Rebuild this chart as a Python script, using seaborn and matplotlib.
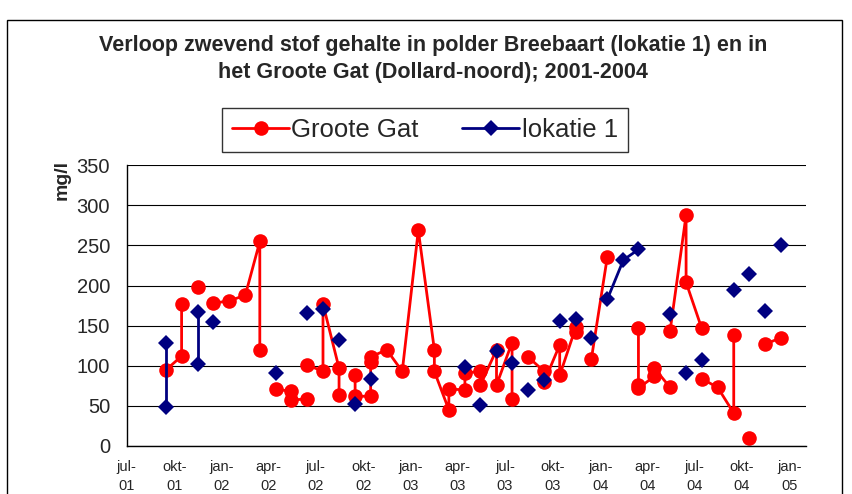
import numpy as np
import pandas as pd
import matplotlib
matplotlib.use("Agg")
import matplotlib.pyplot as plt
from matplotlib.lines import Line2D
from matplotlib.patches import Rectangle
import seaborn as sns

# Zwevend stof (mg/l), monthly samples; None = blank cell (line breaks there)
gg_months = ["2001-09", "2001-10", "2001-10", None,
             "2001-11", None,
             "2001-12", "2002-01", "2002-02", "2002-03", "2002-03", None,
             "2002-04", "2002-05", "2002-05", "2002-06", None,
             "2002-06", "2002-07", "2002-07", "2002-08", "2002-08", None,
             "2002-09", "2002-09", "2002-10", "2002-10", "2002-10", "2002-11",
             "2002-12", "2003-01", "2003-02", "2003-02", "2003-03", "2003-03",
             "2003-04", "2003-04", "2003-05", "2003-05", "2003-06", "2003-06",
             "2003-07", "2003-07", None,
             "2003-08", "2003-09", "2003-09", "2003-10", "2003-10", "2003-11",
             "2003-11", None,
             "2003-12", "2004-01", None,
             "2004-03", "2004-03", "2004-03", "2004-04", "2004-04", "2004-05", None,
             "2004-05", "2004-06", "2004-06", "2004-07", None,
             "2004-07", "2004-08", "2004-09", "2004-09", None,
             "2004-10", None,
             "2004-11", "2004-12"]
gg_values = [95, 112, 177, None,
             198, None,
             178, 181, 188, 255, 120, None,
             71, 68, 57, 59, None,
             101, 93, 177, 97, 64, None,
             88, 62, 62, 105, 111, 120,
             93, 269, 120, 93, 45, 71,
             70, 91, 93, 76, 120, 76,
             129, 58, None,
             111, 93, 80, 126, 88, 148,
             142, None,
             108, 236, None,
             147, 76, 72, 87, 97, 73, None,
             143, 288, 204, 147, None,
             84, 73, 41, 139, None,
             10, None,
             127, 135]

lok_months = ["2001-09", "2001-09", None, "2001-11", "2001-11", None,
              "2001-12", None, "2002-04", None, "2002-06", None, "2002-07", None,
              "2002-08", None, "2002-09", None, "2002-10", None, "2003-04", None,
              "2003-05", None, "2003-06", None, "2003-07", None, "2003-08", None,
              "2003-09", None, "2003-10", None, "2003-11", None, "2003-12", None,
              "2004-01", "2004-02", "2004-03", None, "2004-05", None,
              "2004-06", None, "2004-07", None, "2004-09", None, "2004-10", None,
              "2004-11", None, "2004-12"]
lok_values = [129, 48, None, 167, 102, None,
              155, None, 91, None, 166, None, 171, None,
              132, None, 52, None, 84, None, 99, None,
              51, None, 119, None, 103, None, 70, None,
              82, None, 156, None, 158, None, 135, None,
              183, 232, 245, None, 164, None,
              91, None, 107, None, 194, None, 215, None,
              168, None, 251]

tick_months = ["2001-07", "2001-10", "2002-01", "2002-04", "2002-07", "2002-10",
               "2003-01", "2003-04", "2003-07", "2003-10", "2004-01", "2004-04",
               "2004-07", "2004-10", "2005-01"]
tick_labels = ["jul-\n01", "okt-\n01", "jan-\n02", "apr-\n02", "jul-\n02", "okt-\n02",
               "jan-\n03", "apr-\n03", "jul-\n03", "okt-\n03", "jan-\n04", "apr-\n04",
               "jul-\n04", "okt-\n04", "jan-\n05"]


def to_frame(months, values):
    df = pd.DataFrame({"month": months, "value": values}, dtype=object)
    df["segment"] = df["value"].isna().cumsum()
    df = df.dropna().copy()
    df["value"] = df["value"].astype(float)
    df["date"] = pd.to_datetime(df["month"]) + pd.Timedelta(days=14)
    return df


gg = to_frame(gg_months, gg_values)
lok = to_frame(lok_months, lok_values)

sns.set_style("white")
plt.rcParams["font.family"] = ["Liberation Sans", "DejaVu Sans"]

fig = plt.figure(figsize=(8.52, 4.94), dpi=100)
ax = fig.add_axes([0.1487, 0.0972, 0.797, 0.5682])

red = "#ff0000"
navy = "#000080"
sns.lineplot(data=gg, x="date", y="value", units="segment", estimator=None, sort=False,
             color=red, lw=2, marker="o", markersize=10.5, markeredgecolor=red,
             markeredgewidth=0, legend=False, ax=ax)
sns.lineplot(data=lok, x="date", y="value", units="segment", estimator=None, sort=False,
             color=navy, lw=2, marker="D", markersize=7.8, markeredgecolor=navy,
             markeredgewidth=0, legend=False, ax=ax)

ax.set_ylim(0, 350)
ax.set_yticks(np.arange(0, 351, 50))
ax.set_xlim(pd.Timestamp("2001-07-01"), pd.Timestamp("2005-02-01"))
ax.set_xticks(pd.to_datetime(tick_months))
ax.set_xticklabels(tick_labels, fontsize=10.5, linespacing=1.5)
ax.tick_params(axis="y", labelsize=14.5, length=5, width=1, color="black", direction="out", pad=7)
ax.tick_params(axis="x", length=5, width=1, color="black", direction="out", pad=5)
ax.set_xlabel("")
ax.set_ylabel("")
ax.grid(axis="y", color="black", lw=0.8)
ax.set_axisbelow(True)
for side in ["top", "right"]:
    ax.spines[side].set_visible(False)
for side in ["left", "bottom"]:
    ax.spines[side].set_color("black")
    ax.spines[side].set_linewidth(1)

fig.text(62 / 852, 1 - 180 / 494, "mg/l", rotation=90, ha="center", va="center",
         fontsize=14, fontweight="bold")
fig.text(433 / 852, 1 - 59 / 494,
         "Verloop zwevend stof gehalte in polder Breebaart (lokatie 1) en in\n"
         "het Groote Gat (Dollard-noord); 2001-2004",
         ha="center", va="center", fontsize=15.5, fontweight="bold", linespacing=1.42)

handles = [Line2D([], [], color=red, lw=2, marker="o", markersize=10.5, mew=0),
           Line2D([], [], color=navy, lw=2, marker="D", markersize=7.8, mew=0)]
leg = fig.legend(handles, ["Groote Gat", "lokatie 1"], loc="center",
                 bbox_to_anchor=(425 / 852, 1 - 130 / 494), ncol=2, fontsize=18.5,
                 frameon=True, fancybox=False, edgecolor="black", handlelength=2.2,
                 handletextpad=0.1, columnspacing=1.7, borderpad=0.4,
                 borderaxespad=0)
leg.get_frame().set_linewidth(1)

fig.patches.append(Rectangle((7 / 852, -0.02), 835 / 852, 474 / 494 + 0.02,
                             transform=fig.transFigure, fill=False,
                             edgecolor="black", lw=1))

fig.savefig("out.png", dpi=100)
